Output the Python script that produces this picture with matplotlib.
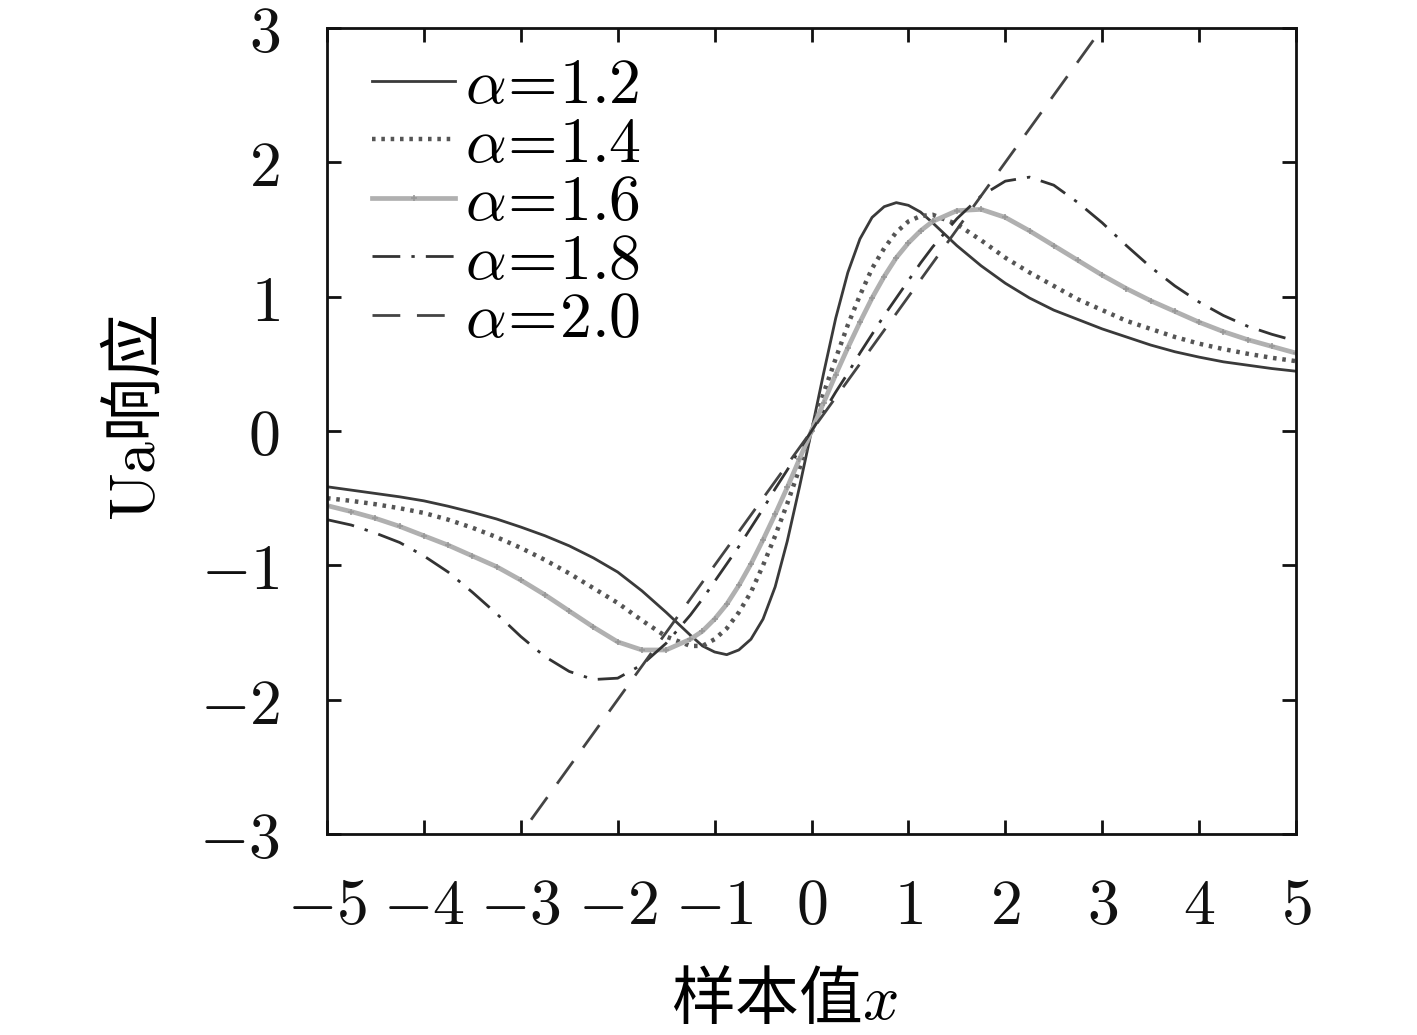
import matplotlib
matplotlib.use("Agg")
import matplotlib.pyplot as plt
from matplotlib.ticker import FixedLocator, FixedFormatter

# ---------------- data ----------------
x_vals = [-5.0, -4.75, -4.5, -4.25, -4.0, -3.75, -3.5, -3.25, -3.0, -2.75, -2.5, -2.25,
          -2.0, -1.75, -1.5, -1.25, -1.125, -1.0, -0.875, -0.75, -0.625, -0.5, -0.375,
          -0.25, -0.125, 0.0, 0.125, 0.25, 0.375, 0.5, 0.625, 0.75, 0.875, 1.0, 1.125,
          1.25, 1.5, 1.75, 2.0, 2.25, 2.5, 2.75, 3.0, 3.25, 3.5, 3.75, 4.0, 4.25, 4.5,
          4.75, 5.0]

alpha12 = [-0.415, -0.44, -0.465, -0.49, -0.52, -0.56, -0.605, -0.655, -0.715, -0.78,
           -0.855, -0.945, -1.05, -1.19, -1.35, -1.52, -1.60, -1.645, -1.665, -1.63,
           -1.55, -1.40, -1.16, -0.82, -0.42,
           0.0, 0.43, 0.84, 1.18, 1.43, 1.59, 1.67, 1.70, 1.68, 1.63, 1.55, 1.38, 1.23,
           1.10, 0.99, 0.90, 0.83, 0.76, 0.70, 0.64, 0.59, 0.55, 0.515, 0.49, 0.465, 0.445]

alpha14 = [-0.50, -0.52, -0.545, -0.575, -0.61, -0.66, -0.72, -0.79, -0.87, -0.96,
           -1.06, -1.17, -1.28, -1.41, -1.53, -1.60, -1.60, -1.55, -1.47, -1.35, -1.20,
           -1.00, -0.78, -0.54, -0.28,
           0.0, 0.28, 0.54, 0.79, 1.01, 1.21, 1.36, 1.48, 1.56, 1.60, 1.61, 1.54, 1.42,
           1.29, 1.18, 1.08, 0.98, 0.90, 0.82, 0.76, 0.70, 0.65, 0.61, 0.575, 0.545, 0.52]

alpha16 = [-0.555, -0.60, -0.65, -0.71, -0.78, -0.85, -0.93, -1.01, -1.11, -1.22,
           -1.34, -1.46, -1.57, -1.63, -1.63, -1.55, -1.49, -1.40, -1.29, -1.15, -0.99,
           -0.81, -0.62, -0.42, -0.21,
           0.0, 0.21, 0.42, 0.62, 0.81, 0.99, 1.15, 1.29, 1.40, 1.49, 1.56, 1.64, 1.65,
           1.59, 1.49, 1.38, 1.27, 1.16, 1.06, 0.97, 0.89, 0.81, 0.74, 0.68, 0.63, 0.58]

alpha18 = [-0.66, -0.70, -0.76, -0.83, -0.93, -1.05, -1.20, -1.36, -1.53, -1.68,
           -1.79, -1.85, -1.84, -1.74, -1.58, -1.37, -1.25, -1.12, -0.99, -0.86, -0.72,
           -0.58, -0.43, -0.29, -0.14,
           0.0, 0.14, 0.29, 0.43, 0.58, 0.72, 0.86, 0.99, 1.12, 1.25, 1.37, 1.58, 1.75,
           1.86, 1.89, 1.83, 1.70, 1.55, 1.38, 1.22, 1.08, 0.96, 0.86, 0.78, 0.72, 0.67]

alpha20_x = [-5.0, 5.0]
alpha20_y = [-5.0, 5.0]

labels = [r"$\alpha\!=\!1.2$", r"$\alpha\!=\!1.4$", r"$\alpha\!=\!1.6$",
          r"$\alpha\!=\!1.8$", r"$\alpha\!=\!2.0$"]

x_ticks = [-5, -4, -3, -2, -1, 0, 1, 2, 3, 4, 5]
y_ticks = [-3, -2, -1, 0, 1, 2, 3]
x_label = "样本值$x$"
y_label = r"$\mathrm{Ua}$响应"

# ---------------- figure ----------------
plt.rcParams["mathtext.fontset"] = "cm"
plt.rcParams["font.family"] = ["DejaVu Serif", "Noto Sans CJK SC"]

W, H = 1417, 1035
fig = plt.figure(figsize=(W / 100, H / 100), dpi=100)
fig.patch.set_facecolor("white")
ax = fig.add_axes([327 / W, 1 - 834 / H, (1296 - 327) / W, (834 - 28) / H])

FS = 46

ax.plot(x_vals, alpha12, color="#3a3a3a", lw=2.0, ls="-", label=labels[0])
ax.plot(x_vals, alpha14, color="#555555", lw=3.2, ls=(0, (0.8, 1.3)), label=labels[1])
ax.plot(x_vals, alpha16, color="#b0b0b0", lw=3.4, ls="-", marker="+", ms=5,
        mew=1.2, mec="#999999", label=labels[2])
ax.plot(x_vals, alpha18, color="#333333", lw=2.0, ls=(0, (10, 4, 1.2, 4)), label=labels[3])
ax.plot(alpha20_x, alpha20_y, color="#444444", lw=2.0, ls=(0, (10, 6)), label=labels[4])

ax.set_xlim(-5, 5)
ax.set_ylim(-3, 3)

ax.xaxis.set_major_locator(FixedLocator(x_ticks))
ax.xaxis.set_major_formatter(FixedFormatter([f"${v}$" for v in x_ticks]))
ax.yaxis.set_major_locator(FixedLocator(y_ticks))
ax.yaxis.set_major_formatter(FixedFormatter([f"${v}$" for v in y_ticks]))

for s in ax.spines.values():
    s.set_linewidth(2.0)
    s.set_color("#111111")

ax.tick_params(axis="both", which="major", direction="in", length=10, width=2.0,
               top=True, right=True, labelsize=FS, colors="#111111")
ax.tick_params(axis="x", pad=30)
ax.tick_params(axis="y", pad=34)

ax.set_xlabel(x_label, fontsize=FS, family=["Noto Sans CJK SC"])
ax.set_ylabel(y_label, fontsize=FS, family=["Noto Sans CJK SC"])
ax.xaxis.set_label_coords((785 - 327) / 969, (834 - 968) / 806)
ax.yaxis.set_label_coords((170 - 327) / 969, (834 - 418) / 806)

leg = ax.legend(loc="upper left", bbox_to_anchor=((372 - 327) / 969, (834 - 55) / 806),
                frameon=False, fontsize=FS, handlelength=1.3, handletextpad=0.15,
                labelspacing=-0.04, borderpad=0, borderaxespad=0)

fig.savefig("out.png", dpi=100, facecolor="white")
